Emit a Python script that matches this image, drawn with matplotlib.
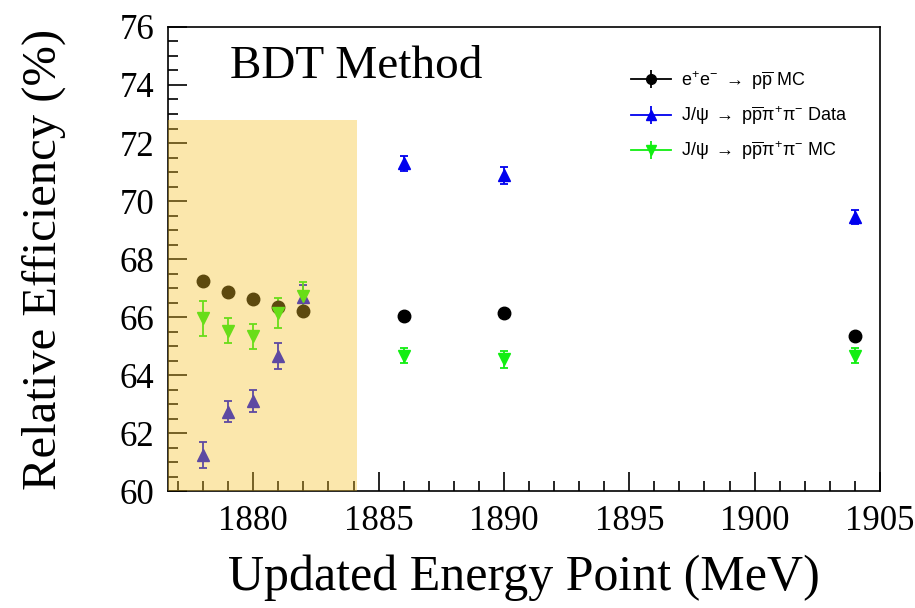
import matplotlib
matplotlib.use("Agg")
import matplotlib.pyplot as plt
from matplotlib.patches import Rectangle
from matplotlib.lines import Line2D
from matplotlib.ticker import MultipleLocator

# Energy points (MeV)
energy = [1878, 1879, 1880, 1881, 1882, 1886, 1890, 1904]

# e+e- -> p pbar MC
eff_ee = [67.25, 66.85, 66.61, 66.36, 66.22, 66.02, 66.15, 65.35]
err_ee = [0.05, 0.05, 0.05, 0.05, 0.05, 0.05, 0.05, 0.05]

# J/psi -> p pbar pi+ pi- data
eff_jpsi_data = [61.24, 62.73, 63.10, 64.67, 66.70, 71.30, 70.88, 69.44]
err_jpsi_data = [0.46, 0.36, 0.38, 0.45, 0.40, 0.26, 0.29, 0.24]

# J/psi -> p pbar pi+ pi- MC
eff_jpsi_mc = [65.95, 65.53, 65.34, 66.13, 66.73, 64.66, 64.54, 64.66]
err_jpsi_mc = [0.60, 0.43, 0.43, 0.52, 0.49, 0.26, 0.30, 0.26]

# highlighted low-energy region
shade_x = (1876.6, 1884.15)
shade_top = 72.8

serif = "Liberation Serif"
plt.rcParams["mathtext.fontset"] = "custom"
plt.rcParams["mathtext.rm"] = "Liberation Sans"
plt.rcParams["mathtext.it"] = "Liberation Sans"

fig = plt.figure(figsize=(9.15, 6.08), dpi=100)
ax = fig.add_axes([0.1836, 0.1924, 0.7781, 0.7632])

series = [
    (eff_ee, err_ee, "o", "black",
     r"$\mathrm{e^{+}e^{-}\ \rightarrow\ p\overline{p}}$ MC"),
    (eff_jpsi_data, err_jpsi_data, "^", "#0000ee",
     r"$\mathrm{J/\psi\ \rightarrow\ p\overline{p}\pi^{+}\pi^{-}}$ Data"),
    (eff_jpsi_mc, err_jpsi_mc, "v", "#11ee11",
     r"$\mathrm{J/\psi\ \rightarrow\ p\overline{p}\pi^{+}\pi^{-}}$ MC"),
]

handles, labels = [], []
for vals, errs, mk, col, lab in series:
    ax.errorbar(energy, vals, yerr=errs, fmt=mk, color=col, ms=9,
                elinewidth=1.3, capsize=3, capthick=1.3, zorder=3)
    leg_cont = ax.errorbar([], [], yerr=[], fmt=mk, color=col, ms=7,
                           elinewidth=1.3, capsize=3, capthick=1.3)
    handles.append((Line2D([], [], color=col, lw=1.3), leg_cont))
    labels.append(lab)

ax.add_patch(Rectangle((shade_x[0], 60), shade_x[1] - shade_x[0], shade_top - 60,
                       facecolor=(0.97, 0.76, 0.15), alpha=0.38, edgecolor="none",
                       zorder=5))

ax.set_xlim(1876.6, 1905)
ax.set_ylim(60, 76)
ax.xaxis.set_major_locator(MultipleLocator(5))
ax.xaxis.set_minor_locator(MultipleLocator(1))
ax.yaxis.set_major_locator(MultipleLocator(2))
ax.yaxis.set_minor_locator(MultipleLocator(0.5))
ax.tick_params(which="both", direction="in", top=False, right=False, width=1.2)
ax.tick_params(which="major", length=14, labelsize=25, pad=10)
ax.tick_params(which="minor", length=7)
for lbl in ax.get_xticklabels() + ax.get_yticklabels():
    lbl.set_fontfamily(serif)
for sp in ax.spines.values():
    sp.set_linewidth(1.2)

ax.set_xlabel("Updated Energy Point (MeV)", fontsize=36, fontfamily=serif, labelpad=12)
ax.set_ylabel("Relative Efficiency (%)", fontsize=35, fontfamily=serif, labelpad=38)

ax.text(0.087, 0.89, "BDT Method", transform=ax.transAxes, fontsize=34,
        fontfamily=serif, ha="left", va="baseline")

ax.legend(handles, labels, loc="upper left", bbox_to_anchor=(0.64, 0.925),
          frameon=False, prop={"family": "Liberation Sans", "size": 13},
          handlelength=2.2, handletextpad=0.6, labelspacing=0.7, borderaxespad=0)

fig.savefig("out.png", dpi=100)
